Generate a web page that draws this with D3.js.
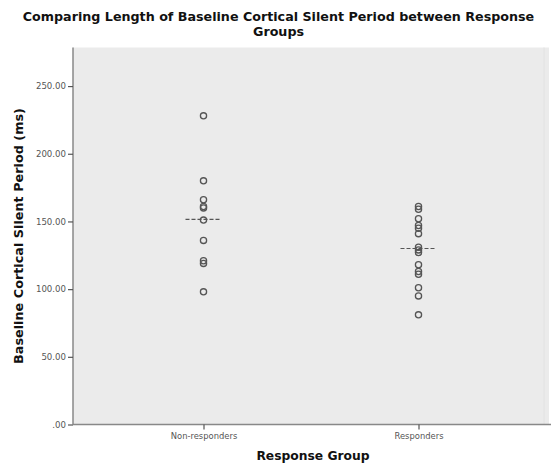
<!DOCTYPE html>
<html>
<head>
<meta charset="utf-8">
<script src="https://cdn.jsdelivr.net/npm/d3@7"></script>
<style>
  html, body { margin: 0; padding: 0; background: #fff; }
  svg { display: block; }
</style>
</head>
<body>
<svg id="chart" width="551" height="464"></svg>
<script>
// ---- data ----
const categories = ["Non-responders", "Responders"];
const nonResponders = [228, 180, 166, 161, 160, 151, 136, 121, 119, 98];
const responders = [161, 159, 152, 147, 145, 141, 131, 129, 127, 118, 113, 111, 101, 95, 81];
const groupLines = [151.5, 130];
const yTicks = [0, 50, 100, 150, 200, 250];
const titleLines = ["Comparing Length of Baseline Cortical Silent Period between Response", "Groups"];
const yTitle = "Baseline Cortical Silent Period (ms)";
const xTitle = "Response Group";

const series = [nonResponders, responders];

// ---- layout ----
const svg = d3.select("#chart");
const plot = { left: 73, right: 549, top: 47.5, bottom: 424.5 };

const x = d3.scalePoint().domain(categories).range([plot.left, plot.right]).padding(0.607);
const y = d3.scaleLinear().domain([0, 278.5]).range([plot.bottom, plot.top]);

// plot background
svg.append("rect")
  .attr("x", plot.left).attr("y", plot.top)
  .attr("width", plot.right - plot.left).attr("height", plot.bottom - plot.top)
  .attr("fill", "#ebebeb");
svg.append("line")
  .attr("x1", plot.right - 5).attr("x2", plot.right - 5)
  .attr("y1", plot.top).attr("y2", plot.bottom)
  .attr("stroke", "#e2e2e2").attr("stroke-width", 1);

// title (two separate lines)
svg.append("g").selectAll("text").data(titleLines).join("text")
  .attr("x", 278.5).attr("y", (d, i) => 21 + i * 15)
  .attr("text-anchor", "middle")
  .attr("font-family", "DejaVu Sans").attr("font-weight", "bold").attr("font-size", 12.7)
  .attr("fill", "#111")
  .text(d => d);

// y axis
const yAxis = svg.append("g")
  .attr("transform", `translate(${plot.left},0)`)
  .call(d3.axisLeft(y).tickValues(yTicks).tickSize(5).tickPadding(2)
    .tickFormat(d => d === 0 ? ".00" : d3.format(".2f")(d)));
yAxis.select(".domain").attr("stroke", "#888").attr("stroke-width", 1.5)
  .attr("d", `M0,${plot.top}V${plot.bottom}`);
yAxis.selectAll(".tick line").attr("stroke", "#555").attr("stroke-width", 1.2);
yAxis.selectAll(".tick text")
  .attr("font-family", "DejaVu Sans").attr("font-size", 8.6).attr("fill", "#555");

// x axis
const xAxis = svg.append("g")
  .attr("transform", `translate(0,${plot.bottom})`)
  .call(d3.axisBottom(x).tickSize(5).tickPadding(4));
xAxis.select(".domain").attr("stroke", "#888").attr("stroke-width", 1.5)
  .attr("d", `M${plot.left},0H${plot.right + 10}`);
xAxis.selectAll(".tick line").attr("stroke", "#555").attr("stroke-width", 1.2);
xAxis.selectAll(".tick text")
  .attr("font-family", "DejaVu Sans").attr("font-size", 8.4).attr("fill", "#555");

// axis titles
svg.append("text")
  .attr("transform", `translate(23,${(plot.top + plot.bottom) / 2}) rotate(-90)`)
  .attr("text-anchor", "middle")
  .attr("font-family", "DejaVu Sans").attr("font-weight", "bold").attr("font-size", 12.8)
  .attr("fill", "#111")
  .text(yTitle);
svg.append("text")
  .attr("x", 313).attr("y", 460).attr("text-anchor", "middle")
  .attr("font-family", "DejaVu Sans").attr("font-weight", "bold").attr("font-size", 12.3)
  .attr("fill", "#111")
  .text(xTitle);

// reference (dashed) lines
svg.append("g").selectAll("line").data(categories).join("line")
  .attr("x1", d => x(d) - 18).attr("x2", d => x(d) + 18)
  .attr("y1", (d, i) => y(groupLines[i])).attr("y2", (d, i) => y(groupLines[i]))
  .attr("stroke", "#555").attr("stroke-width", 1.1).attr("stroke-dasharray", "4,2");

// points
const pts = [];
series.forEach((vals, i) => vals.forEach(v => pts.push({ cat: categories[i], v })));
svg.append("g").selectAll("circle").data(pts).join("circle")
  .attr("cx", d => x(d.cat)).attr("cy", d => y(d.v))
  .attr("r", 3.1)
  .attr("fill", "none").attr("stroke", "#555").attr("stroke-width", 1.3);
</script>
</body>
</html>
